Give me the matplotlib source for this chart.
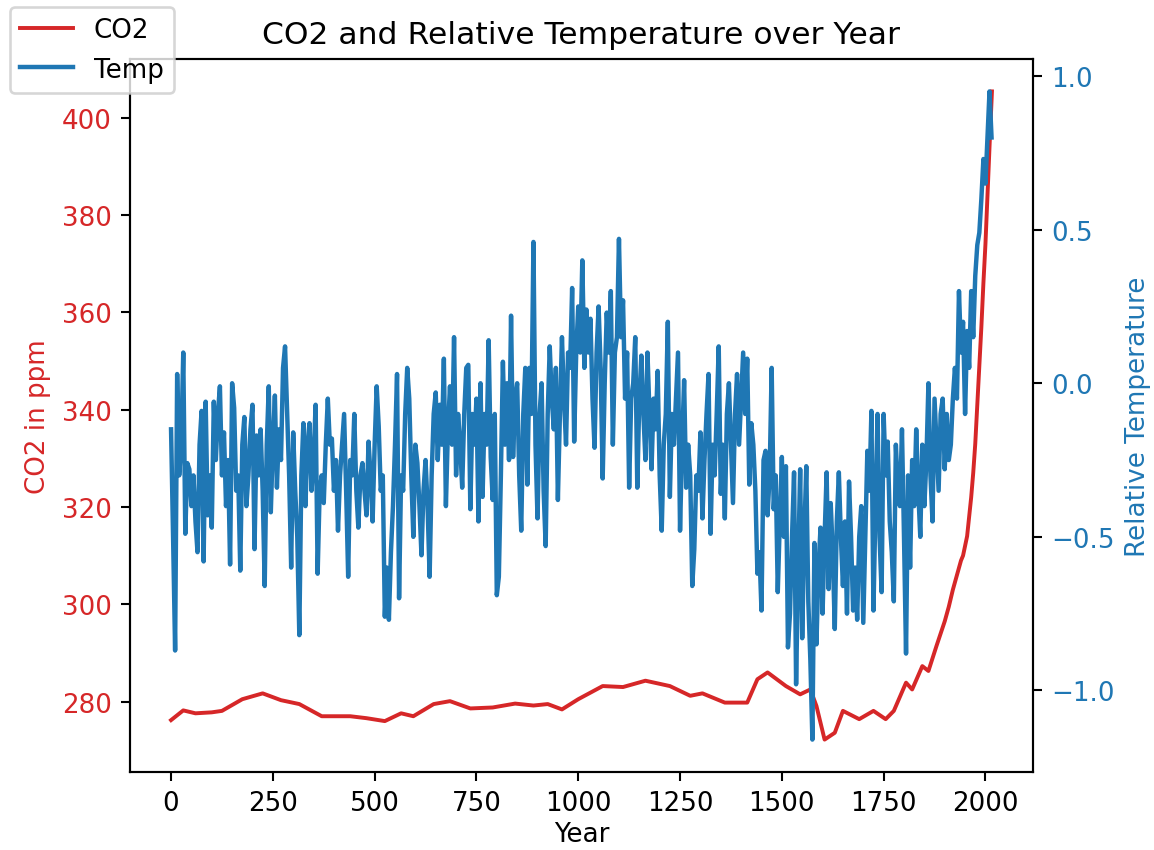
import numpy as np
import matplotlib
matplotlib.use("Agg")
import matplotlib.pyplot as plt

# CO2 (ppm)
co2_years = [0, 30, 60, 100, 125, 175, 225, 270, 315, 370, 440, 480, 525, 565, 595,
             645, 685, 735, 790, 845, 890, 925, 960, 1000, 1060, 1110, 1165, 1225,
             1275, 1305, 1360, 1415, 1440, 1465, 1510, 1545, 1570, 1585, 1605, 1630,
             1650, 1690, 1725, 1755, 1775, 1805, 1820, 1845, 1860, 1880, 1890, 1900,
             1910, 1920, 1930, 1940, 1945, 1950, 1955, 1960, 1965, 1970, 1975, 1980,
             1985, 1990, 1995, 2000, 2005, 2010, 2016]
co2_ppm = [276.2, 278.2, 277.6, 277.8, 278.1, 280.5, 281.7, 280.3, 279.5, 277.0, 277.0,
           276.6, 276.0, 277.6, 277.0, 279.5, 280.1, 278.6, 278.8, 279.6, 279.2, 279.5,
           278.4, 280.5, 283.2, 283.0, 284.3, 283.2, 281.2, 281.7, 279.8, 279.8, 284.6,
           286.0, 283.2, 281.5, 282.5, 279.1, 272.2, 273.6, 278.1, 276.4, 278.1, 276.4,
           278.1, 283.9, 282.5, 287.3, 286.3, 291.5, 294.0, 296.5, 299.5, 303.0, 306.0,
           309.0, 310.0, 312.0, 314.0, 318.0, 322.0, 327.0, 333.0, 341.0, 349.0, 357.0,
           366.0, 374.0, 384.0, 394.0, 405.4]

# relative temperature, one value every 5 years from year 0 to 2015
temp_0_360 = [-0.15, -0.5, -0.87, 0.03, -0.3, -0.2, 0.1, -0.49, -0.26, -0.28,
              -0.4, -0.3, -0.45, -0.55, -0.2, -0.09, -0.58, -0.06, -0.43, -0.3,
              -0.47, -0.06, -0.25, -0.1, -0.01, -0.3, -0.16, -0.4, -0.25, -0.59,
              0.0, -0.08, -0.35, -0.3, -0.61, -0.2, -0.11, -0.4, -0.3, -0.15,
              -0.07, -0.54, -0.17, -0.3, -0.15, -0.35, -0.66, -0.2, -0.01, -0.42,
              -0.2, -0.04, -0.34, -0.15, -0.25, 0.05, 0.12, -0.09, -0.3, -0.6,
              -0.16, -0.35, -0.5, -0.82, -0.3, -0.13, -0.4, -0.2, -0.13, -0.35,
              -0.25, -0.07, -0.62]
temp_365_725 = [-0.35, -0.3, -0.39, -0.2, -0.05, -0.2, -0.18, -0.35, -0.25, -0.48,
                -0.3, -0.2, -0.1, -0.35, -0.63, -0.25, -0.3, -0.1, -0.35, -0.47,
                -0.3, -0.26, -0.35, -0.43, -0.19, -0.3, -0.45, -0.2, -0.01, -0.14,
                -0.35, -0.3, -0.76, -0.6, -0.77, -0.55, -0.4, -0.2, 0.03, -0.7,
                -0.3, -0.35, -0.1, 0.05, -0.05, -0.3, -0.5, -0.2, -0.26, -0.4,
                -0.56, -0.35, -0.25, -0.4, -0.63, -0.3, -0.1, -0.03, -0.25, -0.07,
                -0.2, 0.08, -0.4, -0.15, -0.01, -0.2, 0.15, -0.3, -0.1, -0.2,
                -0.34, -0.1, 0.05]
temp_730_1095 = [0.06, -0.41, -0.1, -0.2, -0.05, -0.45, 0.0, -0.37, -0.1, -0.2,
                 0.14, -0.24, -0.38, -0.1, -0.69, -0.63, -0.3, 0.07, -0.2, 0.0,
                 -0.25, 0.22, -0.24, -0.05, 0.0, -0.3, -0.48, -0.1, 0.05, -0.33,
                 0.05, -0.1, 0.46, -0.2, -0.44, -0.1, 0.0, -0.35, -0.53, -0.1,
                 0.12, -0.05, -0.15, 0.05, -0.38, -0.1, 0.15, -0.05, -0.2, 0.1,
                 0.05, 0.31, -0.19, 0.1, 0.25, 0.1, 0.40, 0.05, 0.24, 0.1,
                 0.21, -0.05, -0.21, 0.1, 0.25, 0.05, -0.31, 0.0, 0.23, 0.1,
                 0.3, -0.2, 0.1, 0.15]
temp_1100_1450 = [0.47, 0.15, 0.27, -0.05, 0.1, -0.34, -0.05, 0.0, 0.15, -0.34,
                  -0.05, 0.09, -0.1, -0.25, 0.1, -0.1, -0.28, -0.05, -0.15, 0.04,
                  -0.3, -0.48, -0.2, -0.1, 0.2, -0.37, -0.1, -0.2, -0.05, 0.1,
                  -0.48, -0.2, 0.01, -0.34, -0.2, -0.3, -0.66, -0.54, -0.3, -0.35,
                  -0.16, -0.44, -0.25, -0.1, 0.03, -0.49, -0.2, -0.3, -0.1, 0.12,
                  -0.36, -0.2, -0.44, -0.1, 0.0, -0.2, -0.39, -0.1, 0.03, -0.2,
                  -0.05, 0.1, -0.1, 0.08, -0.33, -0.13, -0.2, -0.35, -0.62, -0.55,
                  -0.74]
temp_1455_1805 = [-0.25, -0.22, -0.43, -0.3, 0.05, -0.41, -0.3, -0.68, -0.45, -0.24,
                  -0.5, -0.27, -0.86, -0.75, -0.5, -0.29, -0.98, -0.6, -0.28, -0.83,
                  -0.5, -0.27, -0.71, -0.9, -1.16, -0.52, -0.85, -0.6, -0.47, -0.75,
                  -0.5, -0.29, -0.67, -0.39, -0.55, -0.8, -0.45, -0.29, -0.5, -0.66,
                  -0.45, -0.75, -0.32, -0.5, -0.74, -0.6, -0.77, -0.5, -0.4, -0.78,
                  -0.5, -0.22, -0.35, -0.09, -0.74, -0.4, -0.1, -0.5, -0.68, -0.1,
                  -0.3, -0.19, -0.45, -0.55, -0.71, -0.2, -0.35, -0.4, -0.15, -0.5,
                  -0.88]
temp_1810_2015 = [-0.3, -0.6, -0.25, -0.4, -0.15, -0.35, -0.5, -0.2, -0.4, -0.25,
                  0.0, -0.3, -0.45, -0.05, -0.2, -0.35, -0.1, -0.05, -0.28, -0.1,
                  -0.25, -0.2, -0.05, 0.05, -0.05, 0.3, 0.1, 0.2, -0.1, 0.17,
                  0.05, 0.3, 0.15, 0.35, 0.45, 0.49, 0.6, 0.73, 0.65, 0.8,
                  0.95, 0.8]

temp = temp_0_360 + temp_365_725 + temp_730_1095 + temp_1100_1450 + temp_1455_1805 + temp_1810_2015
temp_years = np.arange(0, 2016, 5)
assert len(temp) == len(temp_years), (len(temp), len(temp_years))

DPI = 188
fig, ax1 = plt.subplots(figsize=(1154 / DPI, 851 / DPI), dpi=DPI)
fig.subplots_adjust(left=130 / 1154, right=1033 / 1154, top=1 - 60 / 851, bottom=1 - 773 / 851)

ax1.plot(co2_years, co2_ppm, color="tab:red", label="CO2")
ax1.set_xlabel("Year", labelpad=2)
ax1.set_ylabel("CO2 in ppm", color="tab:red")
ax1.tick_params(axis="y", labelcolor="tab:red")

ax2 = ax1.twinx()
ax2.plot(temp_years, temp, color="tab:blue", linewidth=1.7, label="Temp")
ax2.set_ylabel("Relative Temperature", color="tab:blue")
ax2.tick_params(axis="y", labelcolor="tab:blue")

ax1.set_title("CO2 and Relative Temperature over Year")
fig.legend(loc="upper left", bbox_to_anchor=(10 / 1154, 1 - 8 / 851), borderaxespad=0)

fig.savefig("out.png", dpi=DPI)
